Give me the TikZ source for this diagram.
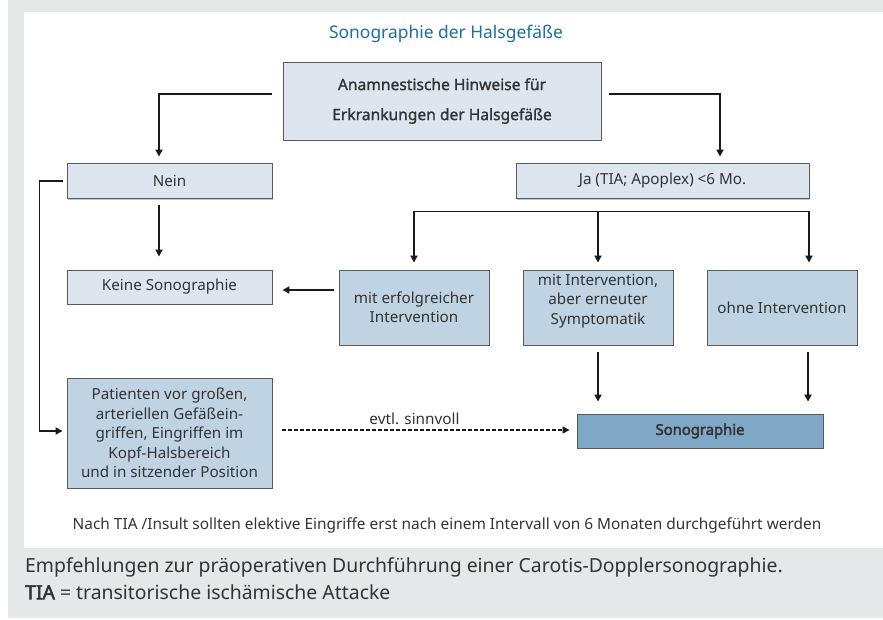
\documentclass[tikz,border=0pt]{standalone}
\usepackage{fontspec}
\setmainfont{Noto Sans}
\newfontfamily\medfont[FakeBold=1.3]{Noto Sans}
\newfontfamily\boldfont[FakeBold=2.6]{Noto Sans}
\usetikzlibrary{arrows.meta,calc,shadows}

\definecolor{bggray}{HTML}{E6E7E9}
\definecolor{boxlight}{HTML}{DDE6EF}
\definecolor{boxmid}{HTML}{BFD3E3}
\definecolor{boxdark}{HTML}{7FA8C6}
\definecolor{titleblue}{HTML}{1F6F98}
\definecolor{txt}{HTML}{333333}
\definecolor{bord}{HTML}{5A5A5A}
\definecolor{linecol}{HTML}{1A1A1A}

\begin{document}
\begin{tikzpicture}[x=1pt,y=-1pt,
  box/.style={draw=bord, line width=0.9pt, text=txt, inner sep=0pt, align=center,
    font=\fontsize{15.2}{19.5}\selectfont,
    general shadow={fill=black!22, shadow xshift=1.2pt, shadow yshift=-1.2pt}},
  lightbox/.style={box, fill=boxlight},
  midbox/.style={box, fill=boxmid},
  darkbox/.style={box, fill=boxdark},
  conn/.style={line width=1.8pt, draw=linecol},
  arr/.style={conn, -{Triangle[width=7pt,length=7pt]}},
  dasharr/.style={line width=1.5pt, draw=linecol, dash pattern=on 4pt off 2pt, -{Triangle[width=7pt,length=7pt]}},
  plain/.style={text=txt, inner sep=0pt},
]
\useasboundingbox (0,0) rectangle (883,620);
\fill[white] (0,0) rectangle (883,620);
\fill[bggray] (8,0) rectangle (883,618);
\fill[white] (24,12) rectangle (883,548);

% title
\node[plain, text=titleblue, font=\fontsize{17.4}{20}\selectfont] (title) at (446,34) {Sonographie der Halsgefäße};

% boxes
\node[lightbox, minimum width=318pt, minimum height=78pt, font=\fontsize{15.6}{30}\selectfont\medfont] (top) at (442,101)
  {Anamnestische Hinweise für\\Erkrankungen der Halsgefäße};
\node[lightbox, minimum width=205pt, minimum height=35pt] (nein) at (169.5,181) {Nein};
\node[lightbox, minimum width=205pt, minimum height=34pt] (keine) at (169.5,287) {Keine Sonographie};
\node[lightbox, minimum width=293pt, minimum height=35pt] (ja) at (662.5,181) {Ja (TIA; Apoplex) <6 Mo.};
\node[midbox, minimum width=150pt, minimum height=75pt] (erf) at (414,307.5) {mit erfolgreicher\\Intervention};
\node[midbox, minimum width=150pt, minimum height=75pt] (sym) at (598,307.5) {mit Intervention,\\aber erneuter\\Symptomatik\\[-3pt]\mbox{}};
\node[midbox, minimum width=150pt, minimum height=75pt] (ohne) at (782,307.5) {ohne Intervention};
\node[midbox, minimum width=205pt, minimum height=110pt] (pat) at (169.5,433)
  {Patienten vor großen,\\arteriellen Gefäßein-\\griffen, Eingriffen im\\Kopf-Halsbereich\\und in sitzender Position};
\node[darkbox, minimum width=246pt, minimum height=34pt, font=\fontsize{14.8}{18}\selectfont\boldfont] (sono) at (700,431) {Sonographie};

% connectors
\draw[arr] ($(top.west)+(-11,-7)$) -| ($(nein.north)+(-10.5,-6.5)$);
\draw[arr] ($(top.east)+(8,-7)$) -| ($(ja.north)+(57.5,-6.5)$);
\draw[arr] ($(nein.south)+(-10.5,6.5)$) -- ($(keine.north)+(-10.5,-13)$);
\draw[conn, {Triangle[width=7pt,length=7pt]}-{Triangle[width=7pt,length=7pt]}]
  ($(erf.north)+(0,-7)$) -- ($(erf.north)+(0,-58)$) -- ($(ohne.north)+(27,-58)$) -- ($(ohne.north)+(27,-7)$);
\draw[arr] ($(sym.north)+(0,-58)$) -- ($(sym.north)+(0,-7)$);
\draw[arr] ($(erf.west)+(-5,-17.5)$) -- ($(keine.east)+(10,3)$);
\draw[arr] ($(sym.south)+(0,7)$) -- ($(sono.north)+(-102,-12)$);
\draw[arr] ($(ohne.south)+(26,7)$) -- ($(sono.north)+(108,-12)$);
\draw[arr] ($(nein.west)+(-4,0)$) -- ++(-23,0) |- ($(pat.west)+(-4,-2)$);
\draw[dasharr] ($(pat.east)+(10,-3)$) -- node[pos=0.46, above=5pt, plain, font=\fontsize{15.3}{17}\selectfont] (lbl) {evtl. sinnvoll} ($(sono.west)+(-7,-1)$);

% footnote and caption
\node[plain, font=\fontsize{15.4}{16}\selectfont] (foot) at (447,525)
  {Nach TIA /Insult sollten elektive Eingriffe erst nach einem Intervall von 6 Monaten durchgeführt werden};
\node[plain, anchor=west, font=\fontsize{19.4}{20}\selectfont] (cap1) at (25,567)
  {Empfehlungen zur präoperativen Durchführung einer Carotis-Dopplersonographie.};
\node[plain, anchor=west, font=\fontsize{19.4}{20}\selectfont] (cap2) at (25,592)
  {{\boldfont TIA} = transitorische ischämische Attacke};
\end{tikzpicture}
\end{document}
